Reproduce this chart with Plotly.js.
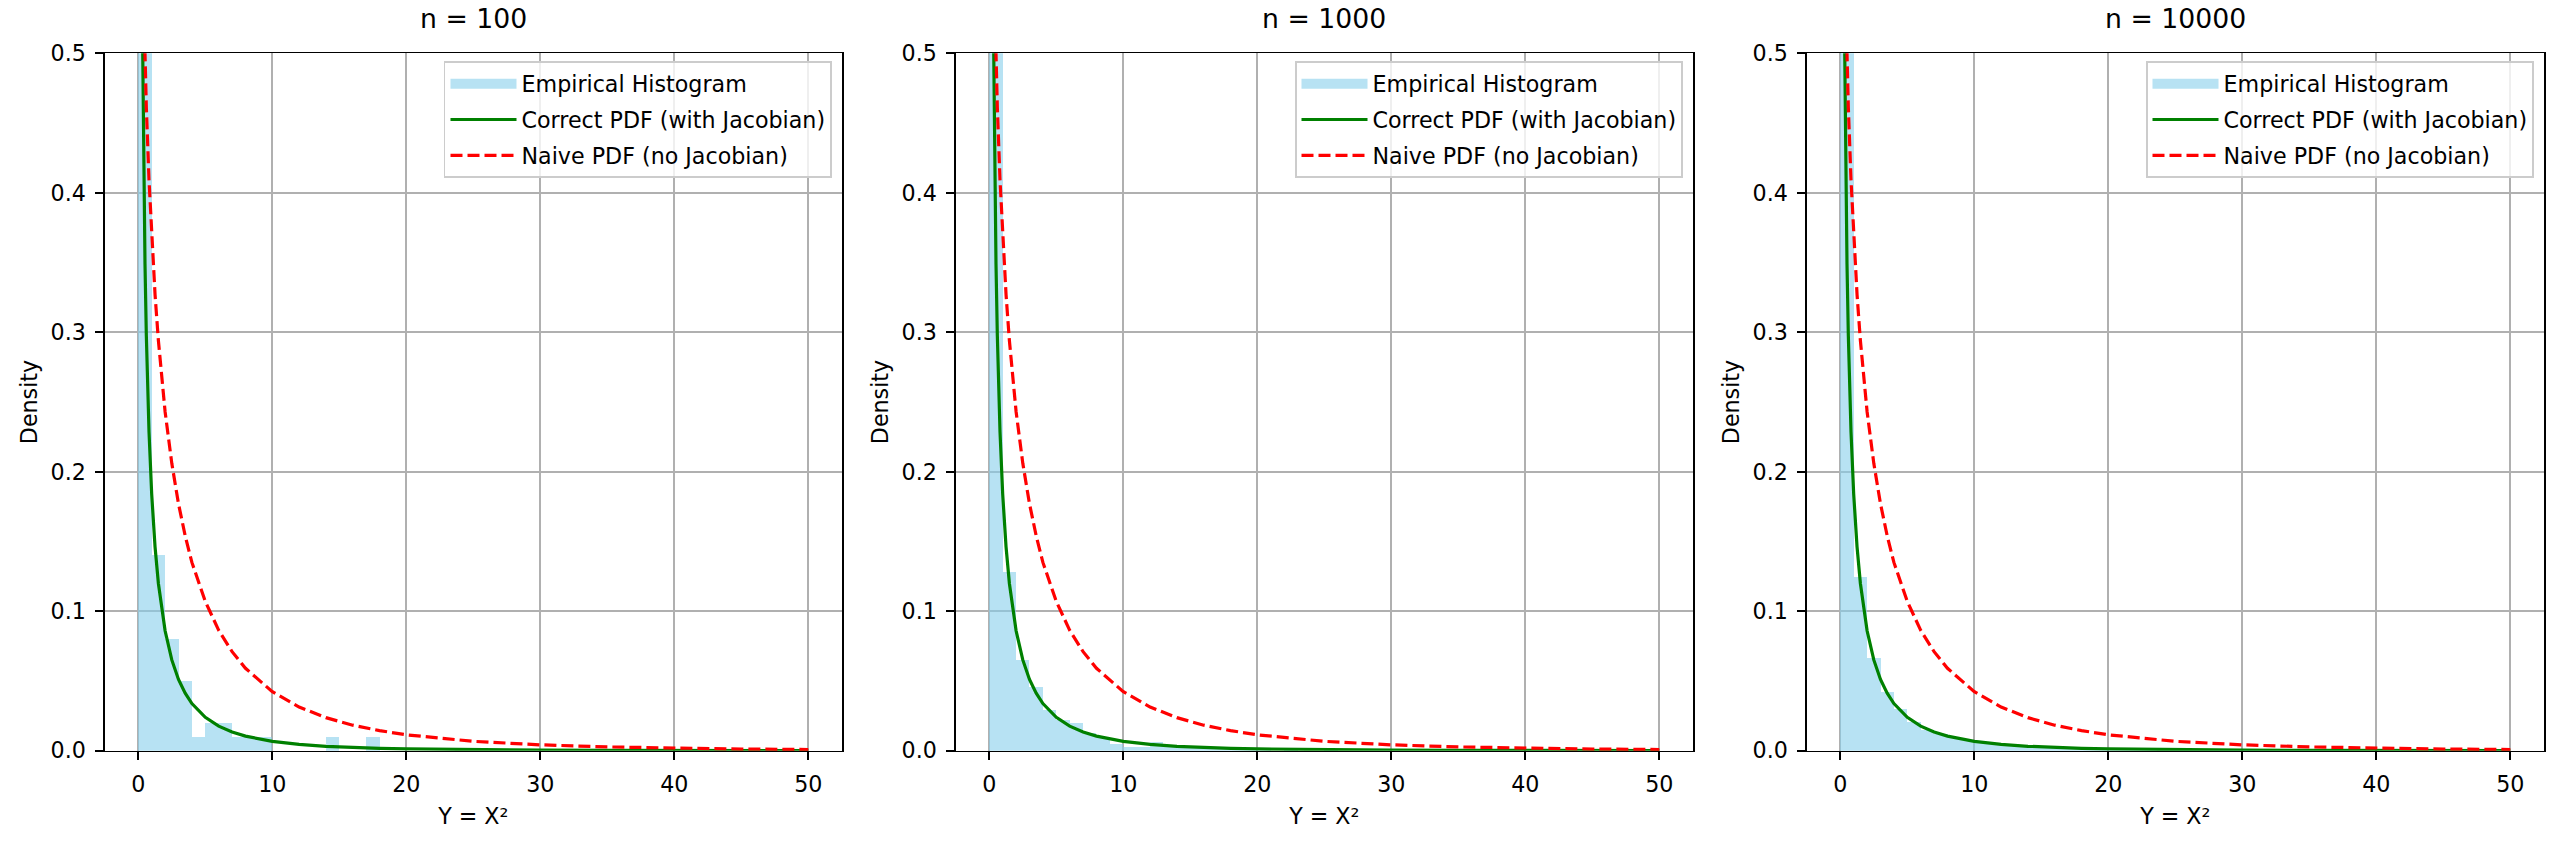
<!DOCTYPE html>
<html>
<head>
<meta charset="utf-8">
<script src="https://cdn.plot.ly/plotly-3.0.1.min.js"></script>
<style>
  html, body { margin: 0; padding: 0; background: #fff; }
  #chart { width: 2560px; height: 842px; }
</style>
</head>
<body>
<div id="chart"></div>
<script>
// sample sizes, one panel each
const sampleSizes = [100, 1000, 10000];

// histogram bins: width 1, left edges 0..49
const binLeft = Array.from({ length: 50 }, (_, i) => i);

// density
const hist100 = [0.63, 0.14, 0.08, 0.05, 0.01, 0.02, 0.02, 0.01, 0.01, 0.01,
    0, 0, 0, 0, 0.01, 0, 0, 0.01, 0, 0,
    0, 0, 0, 0, 0, 0, 0, 0, 0, 0,
    0, 0, 0, 0, 0, 0, 0, 0, 0, 0,
    0, 0, 0, 0, 0, 0, 0, 0, 0, 0];
const hist1000 = [0.636, 0.128, 0.065, 0.046, 0.029, 0.022, 0.020, 0.013, 0.010, 0.005,
    0.003, 0.003, 0.006, 0.003, 0.002, 0.002, 0.001, 0.001, 0.002, 0.001,
    0.001, 0, 0.001, 0, 0, 0.001, 0, 0, 0, 0,
    0, 0, 0, 0, 0, 0, 0, 0, 0, 0,
    0, 0, 0, 0, 0, 0, 0, 0, 0, 0];
const hist10000 = [0.6321, 0.1247, 0.0668, 0.0424, 0.0296, 0.0207, 0.0152, 0.0121, 0.0092, 0.0076,
    0.0061, 0.0049, 0.0042, 0.0034, 0.0030, 0.0024, 0.0021, 0.0018, 0.0016, 0.0014,
    0.0012, 0.0011, 0.0009, 0.0008, 0.0008, 0.0006, 0.0006, 0.0005, 0.0004, 0.0004,
    0.0004, 0.0003, 0.0003, 0.0003, 0.0002, 0.0002, 0.0002, 0.0002, 0.0001, 0.0001,
    0.0001, 0.0001, 0.0001, 0.0001, 0.0001, 0.0001, 0, 0.0001, 0, 0.0001];
const histValues = [hist100, hist1000, hist10000];

// pdf curves (same in every panel)
const curveX = [0.01, 0.02, 0.05, 0.1, 0.15, 0.2, 0.3, 0.4, 0.5, 0.6,
    0.8, 1, 1.25, 1.5, 2, 2.5, 3, 3.5, 4, 5,
    6, 7, 8, 10, 12, 14, 16, 18, 20, 25,
    30, 35, 40, 45, 50];
const correctPdf = [4.52, 3.07, 1.788, 1.153, 0.877, 0.715, 0.528, 0.420, 0.349, 0.2975,
    0.2285, 0.1839, 0.1462, 0.1199, 0.0860, 0.0651, 0.0511, 0.0412, 0.0338, 0.0239,
    0.0176, 0.0134, 0.01045, 0.00669, 0.00452, 0.00317, 0.00229, 0.00169, 0.00128, 0.00067,
    0.00038, 0.00023, 0.00014, 0.00009, 0.00006];
const naivePdf = [0.905, 0.868, 0.800, 0.729, 0.679, 0.639, 0.578, 0.531, 0.493, 0.461,
    0.409, 0.368, 0.327, 0.294, 0.243, 0.206, 0.177, 0.154, 0.135, 0.107,
    0.0863, 0.0710, 0.0591, 0.0423, 0.0313, 0.0237, 0.0183, 0.0144, 0.0114, 0.0067,
    0.0042, 0.0027, 0.0018, 0.0012, 0.00085];

const FONT = 'DejaVu Sans, Liberation Sans, sans-serif';
const FS = 22.2;
const HIST_COLOR = 'rgba(135,206,235,0.6)';

// panel geometry in pixels of the 2560x842 figure
const W = 2560, H = 842;
const panelLeft = [104.8, 955.8, 1806.8];
const panelWidth = 737;
const plotTop = 53.3, plotBottom = 750.7;

const traces = [];
const layout = {
    width: W,
    height: H,
    margin: { l: 0, r: 0, t: 0, b: 0 },
    paper_bgcolor: '#ffffff',
    plot_bgcolor: '#ffffff',
    font: { family: FONT, size: FS, color: '#000000' },
    bargap: 0,
    barmode: 'overlay',
    annotations: []
};

sampleSizes.forEach((n, i) => {
    const k = i === 0 ? '' : String(i + 1);
    const xa = 'x' + k, ya = 'y' + k;
    const legendName = 'legend' + k;

    traces.push({
        type: 'bar',
        x: binLeft.map(b => b + 0.5),
        y: histValues[i],
        width: 1,
        xaxis: xa, yaxis: ya,
        name: 'Empirical Histogram',
        marker: { color: HIST_COLOR, line: { width: 0 } },
        showlegend: false
    });
    // legend proxy so the histogram entry shows a wide patch
    traces.push({
        type: 'scatter',
        mode: 'lines',
        x: [null], y: [null],
        xaxis: xa, yaxis: ya,
        name: 'Empirical Histogram',
        line: { color: HIST_COLOR, width: 15 },
        legend: legendName,
        legendgroup: 'h' + i
    });
    traces.push({
        type: 'scatter',
        mode: 'lines',
        x: curveX,
        y: correctPdf,
        xaxis: xa, yaxis: ya,
        name: 'Correct PDF (with Jacobian)',
        line: { color: '#008000', width: 3.2 },
        legend: legendName,
        legendgroup: 'c' + i
    });
    traces.push({
        type: 'scatter',
        mode: 'lines',
        x: curveX,
        y: naivePdf,
        xaxis: xa, yaxis: ya,
        name: 'Naive PDF (no Jacobian)',
        line: { color: '#ff0000', width: 3.2, dash: '12px,5px' },
        legend: legendName,
        legendgroup: 'n' + i
    });

    const x0 = panelLeft[i] / W, x1 = (panelLeft[i] + panelWidth) / W;
    const axisCommon = {
        showline: true, mirror: true, linecolor: '#000000', linewidth: 1.7,
        ticks: 'outside', ticklen: 7.8, tickwidth: 1.7, tickcolor: '#000000',
        ticklabelstandoff: 5,
        showgrid: true, gridcolor: '#b0b0b0', gridwidth: 1.7,
        zeroline: false,
        tickfont: { family: FONT, size: FS, color: '#000000' }
    };

    layout['xaxis' + k] = Object.assign({}, axisCommon, {
        domain: [x0, x1],
        anchor: ya,
        range: [-2.5, 52.5],
        tickmode: 'linear', tick0: 0, dtick: 10,
        title: { text: 'Y = X²', font: { family: FONT, size: FS }, standoff: 12 }
    });
    layout['yaxis' + k] = Object.assign({}, axisCommon, {
        domain: [1 - plotBottom / H, 1 - plotTop / H],
        anchor: xa,
        range: [0, 0.5],
        tickmode: 'linear', tick0: 0, dtick: 0.1,
        tickformat: '.1f',
        title: { text: 'Density', font: { family: FONT, size: FS }, standoff: 7 }
    });

    layout[legendName] = {
        x: (panelLeft[i] + panelWidth - 10) / W,
        y: 1 - 61 / H,
        xanchor: 'right', yanchor: 'top',
        xref: 'paper', yref: 'paper',
        bgcolor: 'rgba(255,255,255,0.8)',
        bordercolor: '#cccccc', borderwidth: 1.7,
        font: { family: FONT, size: FS, color: '#000000' },
        itemwidth: 66,
        tracegroupgap: 4
    };

    layout.annotations.push({
        text: 'n = ' + n,
        xref: 'paper', yref: 'paper',
        x: (panelLeft[i] + panelWidth / 2) / W,
        y: 1 - 19 / H,
        xanchor: 'center', yanchor: 'middle',
        showarrow: false,
        font: { family: FONT, size: 26.7, color: '#000000' }
    });
});

Plotly.newPlot('chart', traces, layout, { displayModeBar: false, staticPlot: true });
</script>
</body>
</html>
